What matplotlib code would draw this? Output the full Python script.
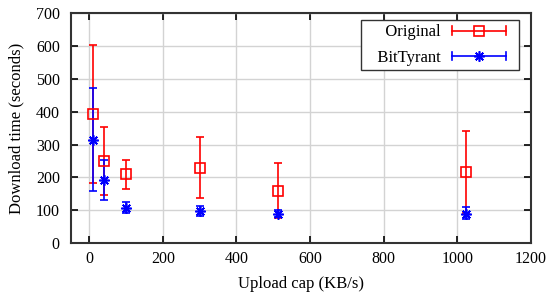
import matplotlib
matplotlib.use("Agg")
import matplotlib.pyplot as plt
from matplotlib.legend_handler import HandlerBase
from matplotlib.lines import Line2D

plt.rcParams['font.family'] = ['Liberation Serif', 'DejaVu Serif']

upload_caps = [10, 40, 100, 300, 512, 1024]
orig_mean = [392, 250, 210, 230, 159, 217]
orig_low = [183, 146, 166, 138, 77, 92]
orig_high = [602, 354, 253, 322, 244, 340]
bt_mean = [315, 192, 107, 97, 89, 90]
bt_low = [159, 131, 93, 82, 78, 72]
bt_high = [471, 253, 124, 113, 100, 110]

x_ticks = [0, 200, 400, 600, 800, 1000, 1200]
y_ticks = [0, 100, 200, 300, 400, 500, 600, 700]

RED = '#ff0000'
BLUE = '#0000ff'
STAR = (8, 2, 0)

fig = plt.figure(figsize=(5.5, 3.05), dpi=100)
ax = fig.add_axes([0.129, 0.203, 0.836, 0.754])


def draw(mean, lo, hi, color, marker, ms, label):
    yerr = [[m - l for m, l in zip(mean, lo)], [h - m for m, h in zip(mean, hi)]]
    ax.errorbar(upload_caps, mean, yerr=yerr, fmt='none', ecolor=color,
                elinewidth=1.2, capsize=3, capthick=1.2, zorder=3)
    ax.plot(upload_caps, mean, linestyle='none', marker=marker, ms=ms,
            mfc='none', mec=color, mew=1.2, zorder=4, label=label)


draw(orig_mean, orig_low, orig_high, RED, 's', 6.5, 'Original')
draw(bt_mean, bt_low, bt_high, BLUE, STAR, 7.5, 'BitTyrant')

ax.set_xlim(-50, 1200)
ax.set_ylim(0, 700)
ax.set_xticks(x_ticks)
ax.set_yticks(y_ticks)
ax.grid(True, color='#d3d3d3', linewidth=1.0, zorder=0)
ax.set_axisbelow(True)
ax.tick_params(direction='in', top=True, right=True, length=5, width=1.2,
               labelsize=11.5, colors='black')
ax.tick_params(axis='y', pad=8)
ax.tick_params(axis='x', pad=6)
for s in ax.spines.values():
    s.set_linewidth(1.5)
    s.set_color('#333333')
ax.set_xlabel('Upload cap (KB/s)', fontsize=12, labelpad=6)
ax.set_ylabel('Download time (seconds)', fontsize=12, labelpad=8)


class HBarHandler(HandlerBase):
    def __init__(self, color, marker, ms, rpad):
        super().__init__()
        self.color = color
        self.marker = marker
        self.ms = ms
        self.rpad = rpad

    def create_artists(self, legend, orig_handle, xdescent, ydescent,
                       width, height, fontsize, trans):
        y = height / 2 - ydescent
        x0, x1 = -xdescent, -xdescent + width - self.rpad
        h = 3
        arts = [
            Line2D([x0, x1], [y, y], color=self.color, lw=1.2),
            Line2D([x0, x0], [y - h, y + h], color=self.color, lw=1.2),
            Line2D([x1, x1], [y - h, y + h], color=self.color, lw=1.2),
            Line2D([(x0 + x1) / 2], [y], marker=self.marker, ms=self.ms,
                   mfc='none', mec=self.color, mew=1.2, linestyle='none'),
        ]
        for a in arts:
            a.set_transform(trans)
        return arts


h1 = Line2D([], [], color=RED)
h2 = Line2D([], [], color=BLUE)
leg = ax.legend([h1, h2], ['   Original', '   BitTyrant'],
                handler_map={h1: HBarHandler(RED, 's', 6.5, 6),
                             h2: HBarHandler(BLUE, STAR, 7.5, 6)},
                loc='upper right', bbox_to_anchor=(0.974, 0.97),
                markerfirst=False, fontsize=12, handlelength=3.75,
                handletextpad=0.66, borderpad=0.26, labelspacing=0.58,
                fancybox=False, framealpha=1, edgecolor='#333333',
                borderaxespad=0)
leg.get_frame().set_linewidth(1.0)

fig.savefig('out.png', dpi=100)
